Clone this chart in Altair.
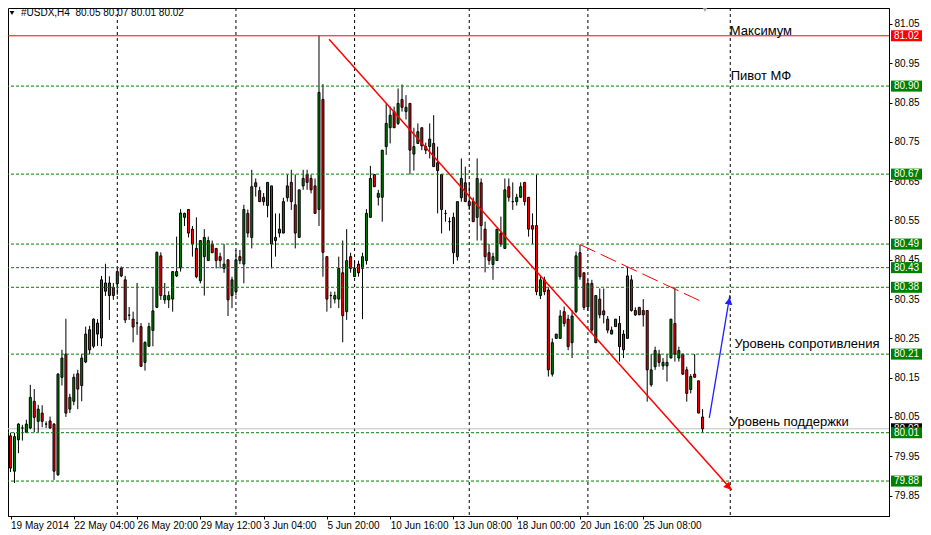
import altair as alt
import pandas as pd

FONT = "Liberation Sans"

# ---- H4 candles (open, high, low, close) ----
bar_open = [80.002, 79.912, 79.992, 80.022, 80.011, 80.022, 80.090, 80.039, 80.060, 80.032,
            80.040, 80.032, 79.903, 80.151, 80.210, 80.070, 80.090, 80.160, 80.130, 80.190,
            80.272, 80.230, 80.289, 80.251, 80.391, 80.359, 80.380, 80.389, 80.429, 80.399,
            80.309, 80.299, 80.289, 80.280, 80.189, 80.230, 80.270, 80.329, 80.460, 80.348,
            80.348, 80.350, 80.409, 80.429, 80.558, 80.578, 80.528, 80.479, 80.397, 80.458,
            80.448, 80.490, 80.479, 80.458, 80.428, 80.450, 80.359, 80.369, 80.458, 80.439,
            80.568, 80.507, 80.646, 80.626, 80.609, 80.588, 80.638, 80.499, 80.518, 80.518,
            80.608, 80.647, 80.590, 80.507, 80.638, 80.667, 80.657, 80.638, 80.578, 80.858,
            80.458, 80.359, 80.350, 80.350, 80.417, 80.318, 80.458, 80.407, 80.439, 80.428,
            80.448, 80.558, 80.667, 80.609, 80.609, 80.738, 80.786, 80.827, 80.797, 80.858,
            80.827, 80.848, 80.719, 80.746, 80.786, 80.738, 80.738, 80.746, 80.697, 80.667,
            80.568, 80.547, 80.558, 80.458, 80.608, 80.646, 80.598, 80.598, 80.558, 80.646,
            80.528, 80.468, 80.438, 80.448, 80.517, 80.479, 80.636, 80.598, 80.598, 80.609,
            80.647, 80.609, 80.537, 80.537, 80.359, 80.399, 80.373, 80.159, 80.250, 80.250,
            80.318, 80.299, 80.239, 80.318, 80.468, 80.417, 80.330, 80.390, 80.239, 80.350,
            80.320, 80.299, 80.261, 80.280, 80.288, 80.221, 80.250, 80.399, 80.310, 80.329,
            80.321, 80.321, 80.132, 80.178, 80.210, 80.180, 80.180, 80.200, 80.288, 80.200,
            80.210, 80.170, 80.120, 80.159, 80.142, 80.050]
bar_high = [80.010, 80.010, 80.034, 80.030, 80.043, 80.132, 80.121, 80.081, 80.080, 80.039,
            80.051, 80.034, 80.162, 80.221, 80.300, 80.109, 80.160, 80.170, 80.210, 80.280,
            80.282, 80.301, 80.299, 80.409, 80.440, 80.408, 80.391, 80.430, 80.433, 80.409,
            80.330, 80.318, 80.391, 80.289, 80.242, 80.290, 80.380, 80.471, 80.469, 80.391,
            80.370, 80.420, 80.509, 80.579, 80.570, 80.578, 80.536, 80.558, 80.499, 80.528,
            80.509, 80.499, 80.479, 80.468, 80.490, 80.450, 80.407, 80.475, 80.475, 80.590,
            80.578, 80.679, 80.657, 80.636, 80.620, 80.647, 80.638, 80.568, 80.568, 80.608,
            80.667, 80.679, 80.667, 80.628, 80.679, 80.679, 80.667, 80.657, 81.020, 80.897,
            80.458, 80.369, 80.369, 80.458, 80.499, 80.528, 80.468, 80.448, 80.448, 80.468,
            80.579, 80.689, 80.667, 80.628, 80.729, 80.848, 80.840, 80.840, 80.886, 80.896,
            80.869, 80.848, 80.786, 80.797, 80.786, 80.748, 80.797, 80.818, 80.738, 80.667,
            80.577, 80.558, 80.570, 80.598, 80.708, 80.687, 80.647, 80.609, 80.708, 80.657,
            80.547, 80.490, 80.468, 80.528, 80.560, 80.657, 80.657, 80.647, 80.618, 80.647,
            80.647, 80.609, 80.568, 80.667, 80.407, 80.407, 80.380, 80.250, 80.261, 80.322,
            80.331, 80.310, 80.322, 80.471, 80.488, 80.417, 80.400, 80.399, 80.359, 80.377,
            80.377, 80.307, 80.280, 80.299, 80.307, 80.271, 80.432, 80.411, 80.329, 80.329,
            80.350, 80.321, 80.210, 80.229, 80.221, 80.200, 80.210, 80.299, 80.380, 80.229,
            80.210, 80.178, 80.159, 80.210, 80.142, 80.070]
bar_low = [79.910, 79.882, 79.958, 79.990, 80.009, 80.019, 80.011, 80.011, 80.024, 80.022,
           80.020, 79.890, 79.900, 80.130, 80.050, 80.060, 80.080, 80.070, 80.090, 80.187,
           80.209, 80.225, 80.231, 80.230, 80.358, 80.297, 80.348, 80.361, 80.406, 80.289,
           80.297, 80.240, 80.259, 80.179, 80.168, 80.230, 80.230, 80.327, 80.348, 80.338,
           80.327, 80.318, 80.406, 80.420, 80.536, 80.507, 80.458, 80.403, 80.390, 80.359,
           80.448, 80.468, 80.428, 80.428, 80.417, 80.307, 80.327, 80.359, 80.439, 80.390,
           80.507, 80.479, 80.611, 80.598, 80.588, 80.558, 80.428, 80.458, 80.507, 80.518,
           80.598, 80.577, 80.479, 80.507, 80.628, 80.628, 80.619, 80.568, 80.536, 80.407,
           80.318, 80.327, 80.339, 80.327, 80.240, 80.297, 80.417, 80.407, 80.407, 80.299,
           80.438, 80.558, 80.636, 80.588, 80.547, 80.717, 80.746, 80.786, 80.793, 80.827,
           80.807, 80.667, 80.677, 80.745, 80.729, 80.719, 80.708, 80.687, 80.568, 80.517,
           80.547, 80.524, 80.439, 80.448, 80.598, 80.598, 80.577, 80.547, 80.499, 80.499,
           80.418, 80.437, 80.399, 80.448, 80.483, 80.479, 80.598, 80.577, 80.588, 80.609,
           80.588, 80.509, 80.490, 80.360, 80.350, 80.360, 80.153, 80.153, 80.250, 80.250,
           80.280, 80.220, 80.200, 80.314, 80.399, 80.322, 80.320, 80.263, 80.239, 80.301,
           80.288, 80.263, 80.261, 80.280, 80.191, 80.200, 80.250, 80.318, 80.307, 80.310,
           80.280, 80.089, 80.127, 80.170, 80.178, 80.170, 80.140, 80.200, 80.191, 80.191,
           80.157, 80.089, 80.110, 80.151, 80.060, 80.010]
bar_close = [79.920, 80.000, 80.032, 80.022, 80.032, 80.100, 80.049, 80.070, 80.039, 80.032,
             80.022, 79.912, 80.159, 80.200, 80.060, 80.100, 80.151, 80.121, 80.200, 80.261,
             80.221, 80.299, 80.261, 80.399, 80.370, 80.391, 80.359, 80.420, 80.409, 80.297,
             80.309, 80.279, 80.289, 80.179, 80.240, 80.280, 80.320, 80.469, 80.359, 80.359,
             80.359, 80.420, 80.420, 80.569, 80.568, 80.518, 80.490, 80.407, 80.499, 80.507,
             80.499, 80.468, 80.448, 80.448, 80.439, 80.348, 80.399, 80.450, 80.448, 80.578,
             80.518, 80.636, 80.636, 80.598, 80.598, 80.647, 80.490, 80.507, 80.528, 80.598,
             80.638, 80.598, 80.518, 80.628, 80.657, 80.647, 80.628, 80.568, 80.876, 80.469,
             80.350, 80.359, 80.359, 80.428, 80.308, 80.448, 80.428, 80.428, 80.417, 80.458,
             80.568, 80.657, 80.636, 80.619, 80.729, 80.797, 80.818, 80.786, 80.848, 80.838,
             80.838, 80.729, 80.738, 80.776, 80.740, 80.729, 80.757, 80.687, 80.677, 80.578,
             80.568, 80.547, 80.468, 80.598, 80.657, 80.598, 80.588, 80.547, 80.657, 80.537,
             80.458, 80.448, 80.458, 80.528, 80.490, 80.628, 80.609, 80.598, 80.609, 80.636,
             80.598, 80.528, 80.528, 80.369, 80.399, 80.369, 80.170, 80.239, 80.261, 80.307,
             80.288, 80.229, 80.307, 80.460, 80.407, 80.329, 80.390, 80.271, 80.359, 80.310,
             80.310, 80.271, 80.271, 80.299, 80.229, 80.261, 80.409, 80.321, 80.321, 80.310,
             80.310, 80.170, 80.170, 80.219, 80.189, 80.189, 80.189, 80.299, 80.210, 80.219,
             80.159, 80.110, 80.153, 80.151, 80.060, 80.020]

# ---- axes ----
x_tick_bars = [1, 17, 33, 49, 65, 81, 97, 113, 129, 145, 161]
x_tick_labels = ["19 May 2014", "22 May 04:00", "26 May 20:00", "29 May 12:00", "3 Jun 04:00",
                 "5 Jun 20:00", "10 Jun 16:00", "13 Jun 08:00", "18 Jun 00:00", "20 Jun 16:00",
                 "25 Jun 08:00"]
y_tick_values = [79.85, 79.95, 80.05, 80.15, 80.25, 80.35, 80.45, 80.55, 80.65, 80.75,
                 80.85, 80.95, 81.05]
grid_bars = [28, 58, 88, 117, 147, 183]

# ---- horizontal levels ----
level_values = [80.892, 80.668, 80.49, 80.43, 80.38, 80.21, 80.01, 79.887]
level_labels = ["80.90", "80.67", "80.49", "80.43", "80.38", "80.21", "80.01", "79.88"]
max_value = 81.02
max_label = "81.02"
bid_value = 80.02
bid_label = "80.02"

# ---- drawn objects ----
trend_bars = [81.55, 183.4]
trend_prices = [81.011, 79.864]
trend_head_bar = [182.6]
trend_head_price = [79.872]
dash_bars = [144.95, 175.9]
dash_prices = [80.489, 80.343]
blue_bars = [177.7, 182.9]
blue_prices = [80.048, 80.36]
blue_head_bar = [182.7]
blue_head_price = [80.345]

note_texts = ["Максимум", "Пивот МФ", "Уровень сопротивления", "Уровень поддержки"]
note_bars = [182.9, 183.1, 184.1, 182.9]
note_prices = [81.022, 80.9075, 80.2256, 80.027]

header_symbol = "#USDX,H4"
header_ohlc = [80.05, 80.07, 80.01, 80.02]
shift_bar = [176.6]

# ---------------------------------------------------------------
n_bars = len(bar_open)
candles = pd.DataFrame({
    "n": list(range(1, n_bars + 1)),
    "o": bar_open, "h": bar_high, "l": bar_low, "c": bar_close,
})
candles["fill"] = ["#008000" if c >= o else "#ff0000" for o, c in zip(bar_open, bar_close)]

PLOT_W, PLOT_H = 881, 508
xscale = alt.Scale(domain=[1.625, 1.625 + PLOT_W / 4], nice=False, zero=False)
yscale = alt.Scale(domain=[81.0907 - PLOT_H / 393.0, 81.0907], nice=False, zero=False)

label_array = "[" + ",".join("'" + s + "'" for s in x_tick_labels) + "]"
xaxis = alt.Axis(values=x_tick_bars, labelExpr=label_array + "[round((datum.value - 1) / 16)]",
                 labelAlign="left", labelBaseline="top", labelPadding=1, tickSize=3,
                 tickColor="black", domainColor="black", labelColor="black", labelFont=FONT,
                 labelFontSize=10, grid=False, title=None, labelOverlap=False,
                 labelBound=False, labelFlush=False)
yaxis = alt.Axis(orient="right", values=y_tick_values, format=".2f", tickSize=3, labelPadding=2,
                 tickColor="black", domainColor="black", labelColor="black", labelFont=FONT,
                 labelFontSize=10, grid=False, title=None, labelOverlap=False,
                 labelBound=False, labelFlush=False)

X = alt.X("n:Q", scale=xscale, axis=xaxis)

def Yq(field):
    return alt.Y(field, scale=yscale, axis=yaxis)

grid = alt.Chart(pd.DataFrame({"n": grid_bars})).mark_rule(
    color="black", strokeDash=[3, 3], strokeWidth=1).encode(x=X)

levels = alt.Chart(pd.DataFrame({"v": level_values})).mark_rule(
    color="#008000", strokeDash=[3, 2], strokeWidth=1).encode(y=Yq("v:Q"))

max_line = alt.Chart(pd.DataFrame({"v": [max_value]})).mark_rule(
    color="#ff0000", strokeWidth=1).encode(y=Yq("v:Q"))

bid_line = alt.Chart(pd.DataFrame({"v": [bid_value]})).mark_rule(
    color="#c0c0c0", strokeWidth=1).encode(y=Yq("v:Q"))

wicks = alt.Chart(candles).mark_rule(color="black", strokeWidth=1).encode(
    x=X, y=Yq("l:Q"), y2="h:Q")

bodies = alt.Chart(candles).mark_bar(width=2, stroke="black", strokeWidth=1).encode(
    x=X, y=Yq("o:Q"), y2="c:Q", fill=alt.Fill("fill:N", scale=None))

def seg(bars, prices):
    return pd.DataFrame({"n": bars, "p": prices, "k": list(range(len(bars)))})

trend = alt.Chart(seg(trend_bars, trend_prices)).mark_line(
    color="#ff0000", strokeWidth=1.5).encode(x=X, y=Yq("p:Q"), order="k:Q")
trend_head = alt.Chart(seg(trend_head_bar, trend_head_price)).mark_point(
    shape="triangle-up", filled=True, size=70, angle=138, color="#ff0000", opacity=1).encode(
    x=X, y=Yq("p:Q"))

dash = alt.Chart(seg(dash_bars, dash_prices)).mark_line(
    color="#ff0000", strokeWidth=1, strokeDash=[17, 6]).encode(x=X, y=Yq("p:Q"), order="k:Q")

blue = alt.Chart(seg(blue_bars, blue_prices)).mark_line(
    color="#1f1fff", strokeWidth=1.3).encode(x=X, y=Yq("p:Q"), order="k:Q")
blue_head = alt.Chart(seg(blue_head_bar, blue_head_price)).mark_point(
    shape="triangle-up", filled=True, size=60, angle=10, color="#1f1fff", opacity=1).encode(
    x=X, y=Yq("p:Q"))

notes = alt.Chart(pd.DataFrame({"n": note_bars, "p": note_prices, "t": note_texts})).mark_text(
    align="left", baseline="alphabetic", font=FONT, fontSize=13, color="black").encode(
    x=X, y=Yq("p:Q"), text="t:N")

header_text = header_symbol + "\u00a0\u00a0" + " ".join(f"{v:.2f}" for v in header_ohlc)
header = alt.Chart(pd.DataFrame({"t": [header_text]})).mark_text(
    align="left", baseline="alphabetic", font=FONT, fontSize=10, color="black").encode(
    x=alt.value(13), y=alt.value(8), text="t:N")
header_tri = alt.Chart(pd.DataFrame({"t": [header_symbol]})).mark_point(
    shape="triangle-down", filled=True, size=22, color="black", opacity=1).encode(
    x=alt.value(4), y=alt.value(5))

shift_mark = alt.Chart(pd.DataFrame({"n": shift_bar})).mark_point(
    shape="triangle-down", filled=True, size=30, color="#a0a0a0", opacity=1, clip=False).encode(
    x=X, y=alt.value(1.5))

bid_df = pd.DataFrame({"v": [bid_value], "label": [bid_label], "col": ["#000000"]})
box_df = pd.DataFrame({
    "v": [max_value] + level_values,
    "label": [max_label] + level_labels,
    "col": ["#ff0000"] + ["#008000"] * len(level_values),
})
BOX_X = PLOT_W + 17.5

def box_layers(df):
    b = alt.Chart(df).mark_tick(
        orient="horizontal", size=31, thickness=11, opacity=1, clip=False).encode(
        x=alt.value(BOX_X), y=Yq("v:Q"), color=alt.Color("col:N", scale=None))
    t = alt.Chart(df).mark_text(
        align="center", baseline="middle", font=FONT, fontSize=10, color="white",
        clip=False).encode(x=alt.value(BOX_X), y=Yq("v:Q"), text="label:N")
    return [b, t]

layers = [grid, bid_line, wicks, bodies, levels, max_line, trend, trend_head, dash, blue,
          blue_head, notes, header, header_tri, shift_mark] + box_layers(bid_df) + box_layers(box_df)

chart = alt.layer(*layers).properties(
    width=PLOT_W, height=PLOT_H,
    padding={"left": 0, "top": 0, "right": 34, "bottom": 15},
    autosize=alt.AutoSizeParams(type="none"),
    background="white",
).configure_view(stroke="black", strokeWidth=1)

chart.save("out.html", embed_options={"renderer": "svg", "actions": False})
